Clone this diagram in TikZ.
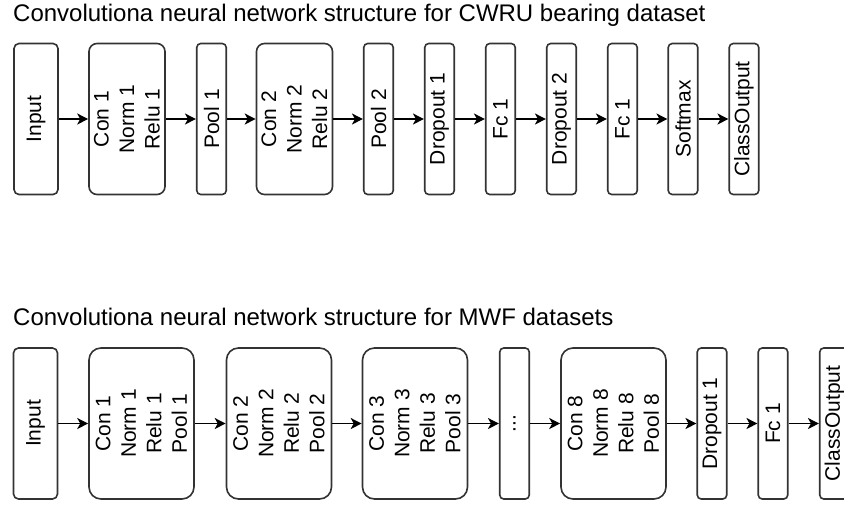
\documentclass[tikz,border=0pt]{standalone}
\usepackage{fontspec}
\setmainfont{Liberation Sans}
\usetikzlibrary{arrows.meta}

\tikzset{
  layer/.style={draw=black!80, line width=1.6pt, fill=white, rotate=90,
    inner sep=0pt, align=center, minimum width=151pt,
    font=\fontsize{21}{25.5}\selectfont},
  thin layer/.style={layer, minimum height=29.5pt, rounded corners=4pt},
  input layer/.style={layer, minimum height=44pt, rounded corners=5pt},
  block3/.style={layer, minimum height=76pt, rounded corners=8pt},
  block4/.style={layer, minimum height=105pt, rounded corners=12pt},
  flow/.style={draw=black, line width=1.3pt,
    -{Stealth[length=11pt, width=11pt, inset=3pt]}},
  heading/.style={anchor=base west, inner sep=0pt,
    font=\fontsize{24}{28}\selectfont},
}

\begin{document}
\begin{tikzpicture}[x=1pt, y=-1pt]
  \useasboundingbox (0,0) rectangle (844,507);

  % ---- CWRU network ----
  \node[heading] (t1) at (13,21) {Convolutiona neural network structure for CWRU bearing dataset};

  \node[input layer] (a1)  at (36,119)    {Input};
  \node[block3]      (a2)  at (127,119)   {Con 1\\Norm 1\\Relu 1};
  \node[thin layer]  (a3)  at (211.5,119) {Pool 1};
  \node[block3]      (a4)  at (294.5,119) {Con 2\\Norm 2\\Relu 2};
  \node[thin layer]  (a5)  at (378.5,119) {Pool 2};
  \node[thin layer]  (a6)  at (439.5,119) {Dropout 1};
  \node[thin layer]  (a7)  at (500.5,119) {Fc 1};
  \node[thin layer]  (a8)  at (561.5,119) {Dropout 2};
  \node[thin layer]  (a9)  at (622.5,119) {Fc 1};
  \node[thin layer]  (a10) at (683,119)   {Softmax};
  \node[thin layer]  (a11) at (744,119)   {ClassOutput};

  \foreach \p/\q in {a1/a2,a2/a3,a3/a4,a4/a5,a5/a6,a6/a7,a7/a8,a8/a9,a9/a10,a10/a11}
    \draw[flow] (\p) -- (\q);

  % ---- MWF network ----
  \node[heading] (t2) at (13,325) {Convolutiona neural network structure for MWF datasets};

  \node[input layer] (b1) at (35.5,423.5)  {Input};
  \node[block4]      (b2) at (141.5,423.5) {Con 1\\Norm 1\\Relu 1\\Pool 1};
  \node[block4]      (b3) at (279,423.5)   {Con 2\\Norm 2\\Relu 2\\Pool 2};
  \node[block4]      (b4) at (415,423.5)   {Con 3\\Norm 3\\Relu 3\\Pool 3};
  \node[thin layer]  (b5) at (514.5,423.5) {...};
  \node[block4]      (b6) at (613.5,423.5) {Con 8\\Norm 8\\Relu 8\\Pool 8};
  \node[thin layer]  (b7) at (712,423.5)   {Dropout 1};
  \node[thin layer]  (b8) at (773,423.5)   {Fc 1};
  \node[thin layer]  (b9) at (834.5,423.5) {ClassOutput};

  \foreach \p/\q in {b1/b2,b2/b3,b3/b4,b4/b5,b5/b6,b6/b7,b7/b8,b8/b9}
    \draw[flow] (\p) -- (\q);
\end{tikzpicture}
\end{document}
